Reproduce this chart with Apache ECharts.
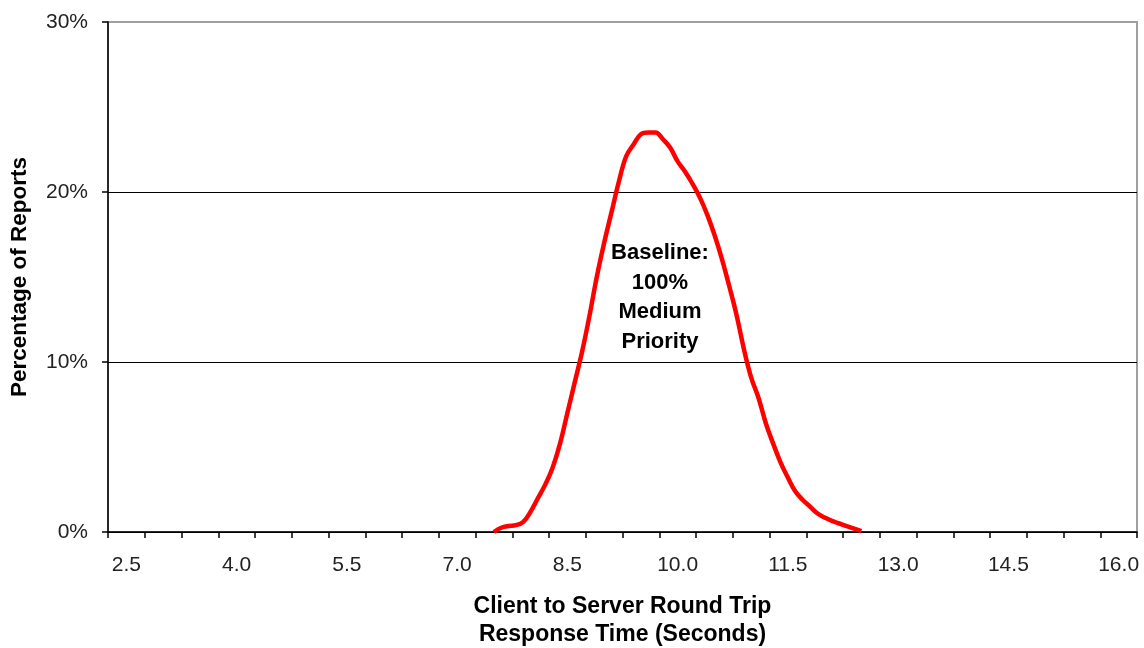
<!DOCTYPE html>
<html>
<head>
<meta charset="utf-8">
<script src="https://cdn.jsdelivr.net/npm/echarts@6/dist/echarts.min.js"></script>
<style>html,body{margin:0;padding:0;background:#fff}#c{width:1144px;height:648px}</style>
</head>
<body>
<div id="c"></div>
<script>
// Category tick labels of the x axis (seconds)
var categories = ['2.5','3.0','3.5','4.0','4.5','5.0','5.5','6.0','6.5','7.0','7.5','8.0','8.5','9.0','9.5','10.0','10.5','11.0','11.5','12.0','12.5','13.0','13.5','14.0','14.5','15.0','15.5','16.0'];
// Response time (seconds) of each curve point
var responseTimes = [7.5,7.6,7.7,7.8,7.9,8.0,8.1,8.2,8.3,8.4,8.5,8.6,8.7,8.8,8.9,9.0,9.1,9.2,9.3,9.4,9.5,9.6,9.7,9.8,9.9,10.0,10.1,10.2,10.3,10.4,10.5,10.6,10.7,10.8,10.9,11.0,11.1,11.2,11.3,11.4,11.5,11.6,11.7,11.8,11.9,12.0,12.1,12.2,12.3,12.4,12.5];
// Percentage of reports (baseline: 100% medium priority)
var baselinePct = [0.0,0.25,0.35,0.4,0.6,1.2,2.0,2.8,3.8,5.2,7.0,8.8,10.6,12.7,15.0,17.0,18.8,20.6,22.1,22.8,23.4,23.5,23.5,23.1,22.6,21.8,21.2,20.5,19.7,18.7,17.5,16.1,14.5,12.8,10.8,9.1,7.9,6.4,5.2,4.1,3.2,2.4,1.9,1.5,1.1,0.85,0.65,0.5,0.35,0.2,0.05];
var yTicks = [0,10,20,30];

var font = '"Liberation Sans", Arial, sans-serif';
var pts = responseTimes.map(function(t,i){return [t, baselinePct[i]];});

var chart = echarts.init(document.getElementById('c'));
chart.setOption({
  animation:false,
  grid:{left:108,right:7,top:22,bottom:116,containLabel:false,outerBoundsMode:'none',show:true,borderColor:'#a0a0a0',borderWidth:2,backgroundColor:'#fff'},
  xAxis:[{
    type:'category',data:categories,boundaryGap:true,
    axisLine:{lineStyle:{color:'#000',width:1.5}},
    axisTick:{show:true,interval:0,length:6,lineStyle:{color:'#000',width:1.5}},
    axisLabel:{interval:2,margin:23,fontSize:21,color:'#222',fontFamily:font},
    splitLine:{show:false},
    name:'Client to Server Round Trip\nResponse Time (Seconds)',
    nameLocation:'middle',nameGap:60,
    nameTextStyle:{fontSize:23,fontWeight:'bold',color:'#000',fontFamily:font,lineHeight:28.5}
  },{
    type:'value',min:2.25,max:16.25,show:false
  }],
  yAxis:{
    type:'value',min:yTicks[0],max:yTicks[yTicks.length-1],interval:10,
    axisLine:{show:true,lineStyle:{color:'#000',width:1.5}},
    axisTick:{show:true,length:6,lineStyle:{color:'#000',width:1.5}},
    axisLabel:{margin:20,fontSize:21,color:'#222',fontFamily:font,formatter:'{value}%'},
    splitLine:{show:true,lineStyle:{color:['#000','#000','#000','#a0a0a0'],width:1.2}},
    name:'Percentage of Reports',nameLocation:'middle',nameGap:77,
    nameTextStyle:{fontSize:22.5,fontWeight:'bold',color:'#000',fontFamily:font}
  },
  series:[{
    type:'line',xAxisIndex:1,data:pts,showSymbol:false,smooth:0.4,
    lineStyle:{color:'#ff0000',width:4.5},
    z:3
  }],
  graphic:[{
    type:'text',left:660-70,top:238,z:10,
    style:{text:'Baseline:\n100%\nMedium\nPriority',width:140,align:'center',
      font:'bold 22px '+font,fill:'#000',lineHeight:29.7,textAlign:'center'}
  }]
});
</script>
</body>
</html>
